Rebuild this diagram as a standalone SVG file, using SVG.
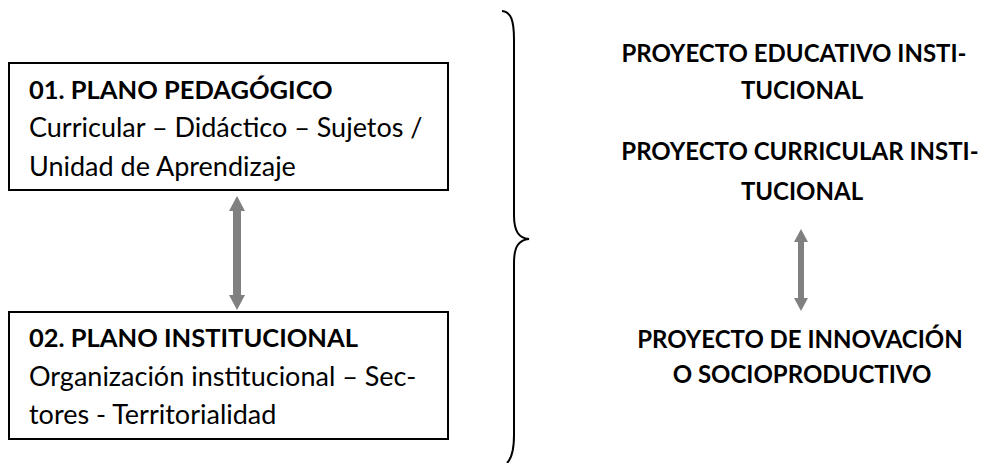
<svg xmlns="http://www.w3.org/2000/svg" width="989" height="463" viewBox="0 0 989 463">
<defs>
<style>
.box{fill:#fff;stroke:#000;stroke-width:2}
.t{font-family:Lato,"Open Sans",sans-serif;font-size:27px;fill:#000}
.b{font-weight:bold;font-size:25.5px}
.r{font-family:Lato,"Open Sans",sans-serif;font-size:24px;font-weight:bold;fill:#000;text-anchor:middle}
.arr{fill:#808080}
.brace{fill:none;stroke:#000;stroke-width:2}
</style>
</defs>
<rect width="989" height="463" fill="#fff"/>
<g id="connectors">
<path class="arr" d="M237,196 L245,211 L241,211 L241,295 L245,295 L237,310 L229,295 L233,295 L233,211 L229,211 Z"/>
<path class="arr" d="M801,229 L808,242 L804,242 L804,298 L808,298 L801,311 L794,298 L798,298 L798,242 L794,242 Z"/>
<path class="brace" d="M502,11 C511,12 514,20 514,40 L514,215 C514,232 519,238 529,239 C519,240 514,246 514,263 L514,435 C514,452 511,459 507,463"/>
</g>
<g id="plano-pedagogico">
<rect class="box" x="9" y="63" width="439" height="127"/>
<text class="t b" x="29" y="99">01. PLANO PEDAGÓGICO</text>
<text class="t" x="29" y="137">Curricular – Didáctico – Sujetos /</text>
<text class="t" x="29" y="176">Unidad de Aprendizaje</text>
</g>
<g id="plano-institucional">
<rect class="box" x="9" y="312" width="439" height="127"/>
<text class="t b" x="29" y="347">02. PLANO INSTITUCIONAL</text>
<text class="t" x="29" y="386">Organización institucional – Sec-</text>
<text class="t" x="29" y="424">tores - Territorialidad</text>
</g>
<g id="proyecto-educativo">
<text class="r" x="794" y="62">PROYECTO EDUCATIVO INSTI-</text>
<text class="r" x="802" y="99">TUCIONAL</text>
</g>
<g id="proyecto-curricular">
<text class="r" x="800" y="160">PROYECTO CURRICULAR INSTI-</text>
<text class="r" x="802" y="200">TUCIONAL</text>
</g>
<g id="proyecto-innovacion">
<text class="r" x="800" y="348">PROYECTO DE INNOVACIÓN</text>
<text class="r" x="802" y="383">O SOCIOPRODUCTIVO</text>
</g>
</svg>
